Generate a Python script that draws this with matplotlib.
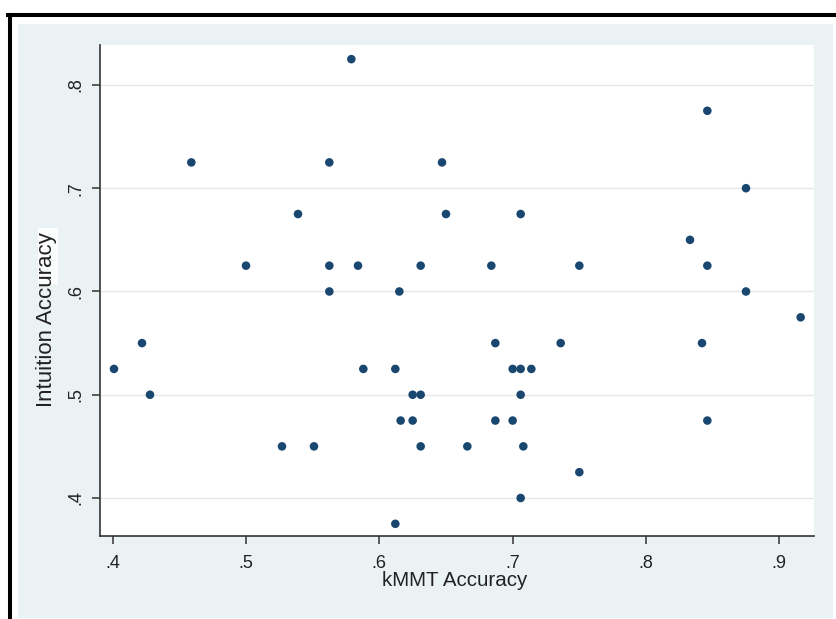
import matplotlib
matplotlib.use("Agg")
import matplotlib.pyplot as plt
from matplotlib.patches import Rectangle
from matplotlib.lines import Line2D
from matplotlib.ticker import FuncFormatter

plt.rcParams['font.family'] = ['Liberation Sans', 'DejaVu Sans']

kmmt_accuracy = [0.401, 0.422, 0.428, 0.459, 0.500, 0.527, 0.551, 0.539, 0.5625, 0.5625,
                 0.5625, 0.579, 0.584, 0.588, 0.612, 0.612, 0.615, 0.616, 0.625, 0.631,
                 0.625, 0.631, 0.631, 0.647, 0.650, 0.666, 0.684, 0.687, 0.687, 0.700,
                 0.706, 0.714, 0.706, 0.706, 0.700, 0.708, 0.706, 0.736, 0.750, 0.750,
                 0.833, 0.842, 0.846, 0.846, 0.846, 0.875, 0.875, 0.916]
intuition_accuracy = [0.525, 0.55, 0.5, 0.725, 0.625, 0.45, 0.45, 0.675, 0.725, 0.625,
                      0.6, 0.825, 0.625, 0.525, 0.525, 0.375, 0.6, 0.475, 0.5, 0.5,
                      0.475, 0.45, 0.625, 0.725, 0.675, 0.45, 0.625, 0.55, 0.475, 0.525,
                      0.525, 0.525, 0.675, 0.5, 0.475, 0.45, 0.4, 0.55, 0.625, 0.425,
                      0.65, 0.55, 0.775, 0.625, 0.475, 0.7, 0.6, 0.575]
x_ticks = [0.4, 0.5, 0.6, 0.7, 0.8, 0.9]
y_ticks = [0.4, 0.5, 0.6, 0.7, 0.8]
x_label = "kMMT Accuracy"
y_label = "Intuition Accuracy"

W, H = 836, 619
fig = plt.figure(figsize=(W / 100, H / 100), dpi=100)
fig.patch.set_facecolor('white')

def fx(px):
    return px / W

def fy(py):
    return 1 - py / H

# light blue-gray graph region
fig.patches.append(Rectangle((fx(18), fy(618)), fx(833) - fx(18), fy(24) - fy(618),
                             transform=fig.transFigure, facecolor='#eaf2f3',
                             edgecolor='none', zorder=0))
# black frame (top and left)
fig.lines.append(Line2D([fx(10), fx(10)], [fy(619), fy(15)], transform=fig.transFigure,
                        color='black', lw=2.9, zorder=1))
fig.lines.append(Line2D([fx(8), fx(836)], [fy(15), fy(15)], transform=fig.transFigure,
                        color='black', lw=2.9, zorder=1))
# small light patch behind y label
fig.patches.append(Rectangle((fx(38), fy(285)), fx(58) - fx(38), fy(228) - fy(285),
                             transform=fig.transFigure, facecolor='#fbfdfd',
                             edgecolor='none', zorder=0.5))

ax = fig.add_axes([fx(100), fy(536), fx(814) - fx(100), fy(45) - fy(536)])
ax.set_zorder(2)
ax.set_facecolor('white')
ax.scatter(kmmt_accuracy, intuition_accuracy, s=38, color='#1a476f',
           edgecolors='none', zorder=3)

ax.set_xlim(0.3905, 0.926)
ax.set_ylim(0.3632, 0.8387)
ax.set_xticks(x_ticks)
ax.set_yticks(y_ticks)
fmt = FuncFormatter(lambda v, p: ("%.1f" % v).lstrip('0'))
ax.xaxis.set_major_formatter(fmt)
ax.yaxis.set_major_formatter(fmt)

ax.grid(axis='y', color='#e6e6e6', lw=0.9, zorder=0)
ax.grid(axis='x', visible=False)
for s in ['top', 'right']:
    ax.spines[s].set_visible(False)
for s in ['left', 'bottom']:
    ax.spines[s].set_color('#333333')
    ax.spines[s].set_linewidth(1.2)
ax.tick_params(axis='both', direction='out', length=5.5, width=1.1, color='#333333',
               labelsize=13, labelcolor='#222222')
ax.tick_params(axis='x', pad=8)
ax.tick_params(axis='y', pad=6)
for lab in ax.get_yticklabels():
    lab.set_rotation(90)
    lab.set_va('center')

fig.text(fx(455), fy(581), x_label, ha='center', va='center', fontsize=14.8,
         color='#222222', zorder=3)
fig.text(fx(47), fy(320), y_label, ha='center', va='center', rotation=90,
         fontsize=16, color='#222222', zorder=3)

fig.savefig('out.png', dpi=100)
